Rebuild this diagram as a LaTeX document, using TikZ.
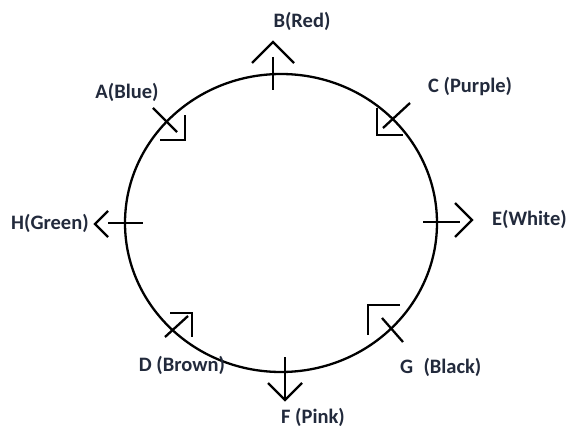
\documentclass[tikz,border=0pt]{standalone}
\usepackage{fontspec}
\setmainfont{Carlito}
\definecolor{labelink}{RGB}{34,42,60}
\begin{document}
\begin{tikzpicture}[x=1pt,y=-1pt,
    sym/.style={line width=2.3pt,line join=miter},
    lbl/.style={inner sep=0pt,text=labelink,font=\fontsize{20.5}{23}\selectfont\bfseries}]
                \useasboundingbox (0,0) rectangle (579,433);
                \fill[white] (0,0) rectangle (579,433);
                \draw[line width=2.3pt] (281,223) ellipse [x radius=156, y radius=149];
                % facing outwards
                \draw[sym](273,57)--(273,90);
                \draw[sym](252,63)--(273,42)--(294,63);
                \draw[sym](423,222)--(460,222);
                \draw[sym](455,203)--(472,220)--(455,237);
                \draw[sym](285,357)--(285,398);
                \draw[sym](268,383)--(285,400)--(302,383);
                \draw[sym](108,223)--(143,223);
                \draw[sym](108,211)--(95,224)--(108,237);
                % facing the centre
                \draw[sym](153,108)--(177,132);
                \draw[sym](160,140)--(185,140)--(185,115);
                \draw[sym](410,103)--(383,128);
                \draw[sym](377,108)--(377,135)--(403,135);
                \draw[sym](403,342)--(382,318);
                \draw[sym](400,305)--(368,305)--(368,335);
                \draw[sym](165,337)--(188,316);
                \draw[sym](170,313)--(192,313)--(192,337);
                % names
                \node[lbl] (labB) at (302,21) {B(Red)};
                \node[lbl] (labA) at (127,92) {A(Blue)};
                \node[lbl,anchor=west] (labC) at (428,87) {C (Purple)};
                \node[lbl,anchor=west] (labE) at (492,219) {E(White)};
                \node[lbl,anchor=west] (labH) at (11,223) {H(Green)};
                \node[lbl] (labD) at (182,365) {D (Brown)};
                \node[lbl] (labF) at (313,417) {F (Pink)};
                \node[lbl,anchor=west] (labG) at (400,367) {G\enspace(Black)};
\end{tikzpicture}
\end{document}
